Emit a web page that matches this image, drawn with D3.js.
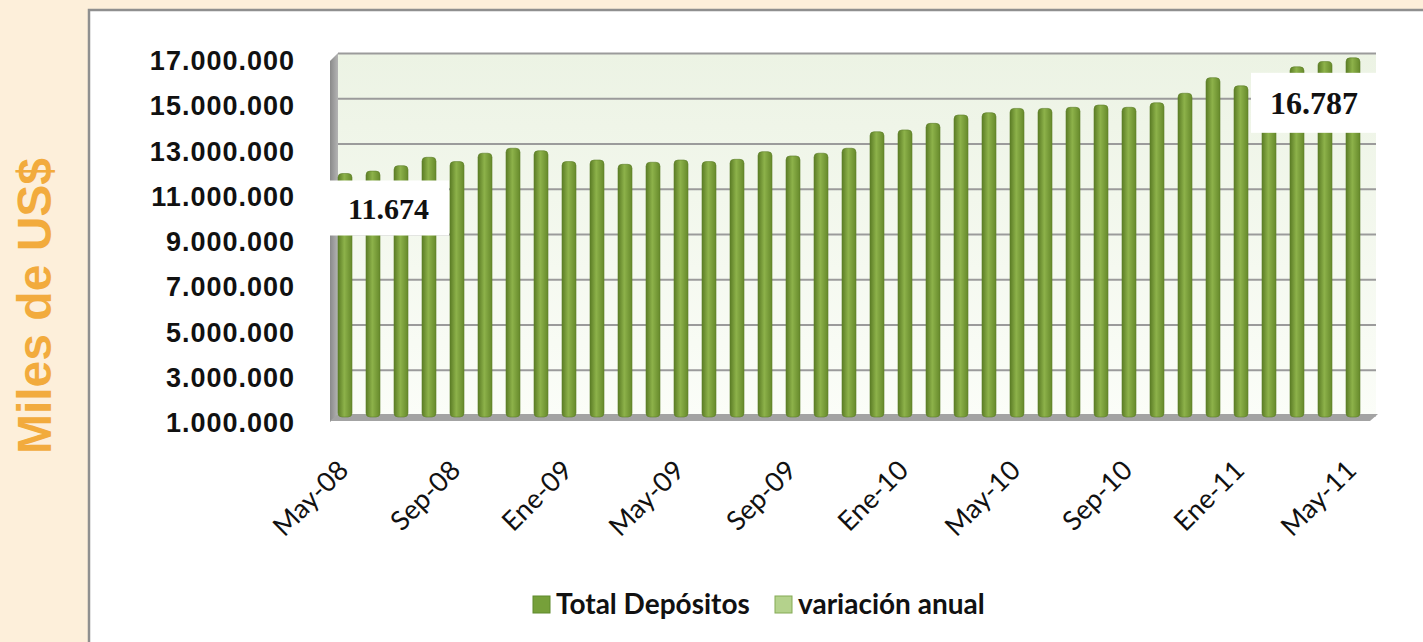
<!DOCTYPE html>
<html>
<head>
<meta charset="utf-8">
<script src="https://cdn.jsdelivr.net/npm/d3@7"></script>
<style>
  html, body { margin: 0; padding: 0; background: #fdefda; }
  svg { display: block; }
</style>
</head>
<body>
<div id="chart"></div>
<script>
// meses (eje x)
var meses = ["May-08","Jun-08","Jul-08","Ago-08","Sep-08","Oct-08","Nov-08","Dic-08",
  "Ene-09","Feb-09","Mar-09","Abr-09","May-09","Jun-09","Jul-09","Ago-09","Sep-09","Oct-09","Nov-09","Dic-09",
  "Ene-10","Feb-10","Mar-10","Abr-10","May-10","Jun-10","Jul-10","Ago-10","Sep-10","Oct-10","Nov-10","Dic-10",
  "Ene-11","Feb-11","Mar-11","Abr-11","May-11"]
// Total depositos, miles de US$
var depositos = [11674000, 11780000, 12020000, 12390000, 12200000, 12570000, 12790000, 12680000,
  12200000, 12270000, 12080000, 12170000, 12270000, 12200000, 12300000, 12640000, 12450000, 12570000, 12790000, 13520000,
  13600000, 13890000, 14260000, 14360000, 14550000, 14550000, 14600000, 14700000, 14600000, 14800000, 15220000, 15910000,
  15550000, 16000000, 16390000, 16620000, 16787000]
var ticksY = [1000000, 3000000, 5000000, 7000000, 9000000, 11000000, 13000000, 15000000, 17000000]
var etiquetasX = ["May-08","Sep-08","Ene-09","May-09","Sep-09","Ene-10","May-10","Sep-10","Ene-11","May-11"]
var series = ["Total Depósitos", "variación anual"]
var anotaciones = [{mes: "May-08", texto: "11.674"}, {mes: "May-11", texto: "16.787"}]

var ancho = 1423, alto = 642
var es = d3.formatLocale({decimal: ",", thousands: ".", grouping: [3], currency: ["$", ""]})
var fmt = es.format(",d")

var svg = d3.select("#chart").append("svg")
  .attr("width", ancho).attr("height", alto)

var defs = svg.append("defs")
var gPared = defs.append("linearGradient").attr("id", "pared").attr("x1", 0).attr("x2", 0).attr("y1", 0).attr("y2", 1)
gPared.append("stop").attr("offset", "0%").attr("stop-color", "#ecf3e4")
gPared.append("stop").attr("offset", "100%").attr("stop-color", "#fbfdf8")
var gBarra = defs.append("linearGradient").attr("id", "barra")
gBarra.append("stop").attr("offset", "0%").attr("stop-color", "#5b7c25")
gBarra.append("stop").attr("offset", "45%").attr("stop-color", "#8db24a")
gBarra.append("stop").attr("offset", "100%").attr("stop-color", "#66892b")
var gLado = defs.append("linearGradient").attr("id", "lado")
gLado.append("stop").attr("offset", "0%").attr("stop-color", "#8a8a8a")
gLado.append("stop").attr("offset", "100%").attr("stop-color", "#b4b4b4")

// panel blanco
svg.append("rect").attr("x", 89).attr("y", 10).attr("width", ancho).attr("height", alto)
  .attr("fill", "#ffffff").attr("stroke", "#8f8f8f").attr("stroke-width", 2.5)

// titulo eje y
svg.append("text")
  .attr("transform", "translate(51," + 306 + ") rotate(-90)")
  .attr("text-anchor", "middle")
  .style("font-family", "'Liberation Sans', Arial, sans-serif")
  .style("font-weight", "bold").style("font-size", "48px")
  .attr("fill", "#f2ab3d")
  .text("Miles de US$")

//Escalas
var x = d3.scaleBand().domain(meses).range([331, 1367]).paddingInner(0.5).paddingOuter(0.25)
var y = d3.scaleLinear().domain([1000000, 17000000]).range([415, 53])
var izq = 338, der = 1376

// pared del fondo
svg.append("rect").attr("x", izq).attr("y", y(17000000)).attr("width", der - izq).attr("height", y(1000000) - y(17000000))
  .attr("fill", "url(#pared)")

// lineas de division
svg.append("g").attr("transform", "translate(" + izq + ",0)")
  .call(d3.axisLeft(y).tickValues(ticksY).tickSize(-(der - izq)).tickFormat(""))
  .call(function(g) { g.select(".domain").remove() })
  .selectAll("line").attr("stroke", "#9b9b9b").attr("stroke-width", 2)

// pared lateral y suelo
svg.append("path")
  .attr("d", "M330," + (y(17000000) + 8) + "L" + izq + "," + y(17000000) + "L" + izq + "," + y(1000000) + "L330," + (y(1000000) + 7) + "Z")
  .attr("fill", "url(#lado)")
svg.append("path")
  .attr("d", "M" + izq + "," + (y(1000000) - 1) + "L" + (der + 2) + "," + (y(1000000) - 1) + "L" + (der - 6) + "," + (y(1000000) + 6) + "L330," + (y(1000000) + 6) + "Z")
  .attr("fill", "#a3a3a3")

// barras
svg.append("g").selectAll("rect")
  .data(depositos)
  .enter()
  .append("rect")
  .attr("x", function(d, i) { return x(meses[i]) })
  .attr("y", function(d) { return y(d) })
  .attr("width", x.bandwidth())
  .attr("height", function(d) { return y(1000000) - y(d) + 2 })
  .attr("rx", 4)
  .attr("fill", "url(#barra)")
  .attr("stroke", "#5e7f2a").attr("stroke-width", 0.6)

// etiquetas eje y
svg.append("g").attr("transform", "translate(295,8)")
  .call(d3.axisLeft(y).tickValues(ticksY).tickSize(0).tickPadding(0).tickFormat(fmt))
  .call(function(g) { g.select(".domain").remove() })
  .selectAll("text")
  .style("font-family", "'Liberation Sans', Arial, sans-serif")
  .style("font-weight", "bold").style("font-size", "27px").style("letter-spacing", "1px")
  .attr("fill", "#111")

// etiquetas eje x
svg.append("g").attr("transform", "translate(0," + 472 + ")")
  .call(d3.axisBottom(x).tickValues(etiquetasX).tickSize(0).tickPadding(0))
  .call(function(g) { g.select(".domain").remove() })
  .selectAll("text")
  .attr("text-anchor", "end")
  .attr("dy", 0)
  .attr("transform", "translate(5,0) rotate(-45)")
  .style("font-family", "Lato, 'Open Sans', sans-serif")
  .style("font-size", "27px")
  .attr("fill", "#111")

// cajas de valores
var cajas = [{dx: -17, dy: 7, w: 121, h: 55, fs: 30}, {dx: -102, dy: 15, w: 126, h: 60, fs: 32}]
anotaciones.forEach(function(a, i) {
  var v = depositos[meses.indexOf(a.mes)]
  var cx = x(a.mes) + x.bandwidth() / 2
  var c = cajas[i]
  svg.append("rect").attr("x", cx + c.dx).attr("y", y(v) + c.dy).attr("width", c.w).attr("height", c.h).attr("fill", "#fff")
  svg.append("text").attr("x", cx + c.dx + c.w / 2).attr("y", y(v) + c.dy + c.h / 2)
    .attr("dy", "0.35em").attr("text-anchor", "middle")
    .style("font-family", "'Liberation Serif', 'Times New Roman', serif")
    .style("font-weight", "bold").style("font-size", c.fs + "px")
    .attr("fill", "#111").text(a.texto)
})

// leyenda
var colores = ["#76a03a", "#b4d28c"]
var bordes = ["#5f8a2c", "#84aa55"]
var posLeyenda = [533, 775]
var leyenda = svg.append("g").selectAll("g").data(series).enter().append("g")
  .attr("transform", function(d, i) { return "translate(" + posLeyenda[i] + ",596)" })
leyenda.append("rect").attr("width", 17).attr("height", 17)
  .attr("fill", function(d, i) { return colores[i] })
  .attr("stroke", function(d, i) { return bordes[i] }).attr("stroke-width", 1)
leyenda.append("text").attr("x", 23).attr("y", 18)
  .style("font-family", "Lato, 'Open Sans', sans-serif")
  .style("font-weight", "bold").style("font-size", "28px")
  .attr("fill", "#111")
  .text(function(d) { return d })
</script>
</body>
</html>
